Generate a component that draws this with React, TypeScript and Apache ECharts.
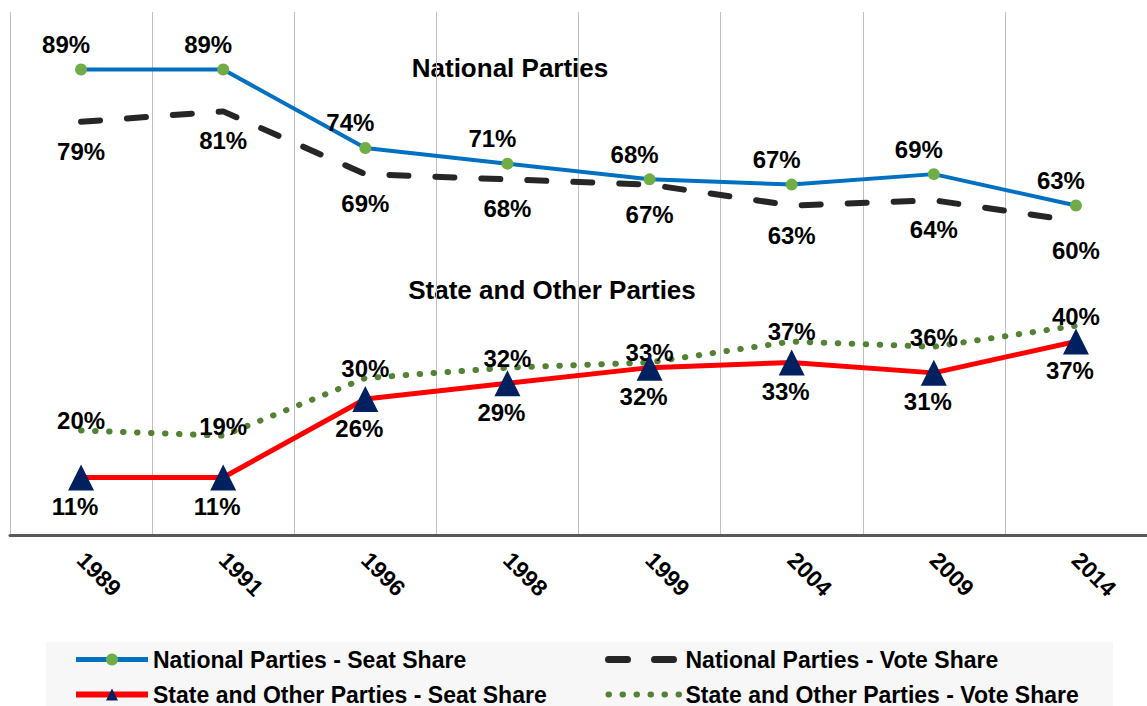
import React, { useEffect, useRef } from "react";
import * as echarts from "echarts";

const years = ["1989", "1991", "1996", "1998", "1999", "2004", "2009", "2014"];
const nationalSeat = [89, 89, 74, 71, 68, 67, 69, 63];
const nationalVote = [79, 81, 69, 68, 67, 63, 64, 60];
const stateSeat = [11, 11, 26, 29, 32, 33, 31, 37];
const stateVote = [20, 19, 30, 32, 33, 37, 36, 40];

const seriesNames = [
  "National Parties - Seat Share",
  "National Parties - Vote Share",
  "State and Other Parties - Seat Share",
  "State and Other Parties - Vote Share",
];

const FONT = "'Liberation Sans', Arial, sans-serif";

export default function App() {
  const ref = useRef<HTMLDivElement>(null);
  useEffect(() => {
    if (!ref.current) return;
    const chart = echarts.init(ref.current, null, { renderer: "svg" });
    const labelBase = {
      show: true,
      formatter: "{c}%",
      color: "#000",
      fontWeight: "bold" as const,
      fontSize: 24,
      fontFamily: FONT,
    };
    const legendText = {
      color: "#000",
      fontWeight: "bold" as const,
      fontSize: 23,
      fontFamily: FONT,
      lineHeight: 22,
    };
    const legendBase = {
      orient: "vertical",
      top: 648,
      height: 120,
      width: 500,
      padding: 0,
      itemWidth: 72,
      itemHeight: 15,
      itemGap: 12,
      textStyle: legendText,
      selectedMode: false,
    };
    chart.setOption({
      animation: false,
      backgroundColor: "#fff",
      grid: { left: 10, right: -7, top: 12, bottom: 171, containLabel: false },
      graphic: [
        {
          type: "rect",
          shape: { x: 46, y: 642, width: 1067, height: 64 },
          style: { fill: "#f7f7f7" },
          z: -1,
        },
        {
          type: "text",
          x: 510,
          y: 68,
          style: {
            text: "National Parties",
            fill: "#000",
            font: `bold 26px ${FONT}`,
            textAlign: "center",
            textVerticalAlign: "middle",
          },
        },
        {
          type: "text",
          x: 552,
          y: 290,
          style: {
            text: "State and Other Parties",
            fill: "#000",
            font: `bold 26px ${FONT}`,
            textAlign: "center",
            textVerticalAlign: "middle",
          },
        },
      ],
      legend: [
        {
          ...legendBase,
          left: 73,
          data: [
            { name: seriesNames[0], lineStyle: { width: 5 } },
            { name: seriesNames[2], lineStyle: { width: 6 } },
          ],
        },
        {
          ...legendBase,
          left: 605,
          data: [
            { name: seriesNames[1], lineStyle: { width: 7 } },
            { name: seriesNames[3], lineStyle: { width: 6 } },
          ],
        },
      ],
      xAxis: {
        type: "category",
        data: years,
        boundaryGap: true,
        axisLine: { show: true, lineStyle: { color: "#595959", width: 3 } },
        axisTick: { show: false },
        splitLine: { show: true, interval: 0, lineStyle: { color: "#bfbfbf", width: 1 } },
        axisLabel: {
          interval: 0,
          rotate: -45,
          margin: 21,
          color: "#000",
          fontWeight: "bold",
          fontSize: 23,
          fontFamily: FONT,
        },
      },
      yAxis: { type: "value", min: 0, max: 100, show: false, splitLine: { show: false } },
      series: [
        {
          name: seriesNames[0],
          type: "line",
          data: nationalSeat,
          symbol: "circle",
          symbolSize: 12,
          itemStyle: { color: "#70AD47" },
          lineStyle: { color: "#0070C0", width: 4 },
          label: { ...labelBase, position: "top", distance: 7, offset: [-15, 0] },
          z: 4,
        },
        {
          name: seriesNames[1],
          type: "line",
          data: nationalVote,
          symbol: "circle",
          symbolSize: 1,
          itemStyle: { color: "rgba(0,0,0,0)" },
          lineStyle: { color: "#262626", width: 6, type: [19, 27], cap: "round" },
          label: { ...labelBase, position: "bottom", distance: 17 },
          z: 3,
        },
        {
          name: seriesNames[2],
          type: "line",
          data: stateSeat,
          symbol: "triangle",
          symbolSize: 26,
          itemStyle: { color: "#002060" },
          lineStyle: { color: "#FF0000", width: 5 },
          label: { ...labelBase, position: "bottom", distance: 4, offset: [-6, 0] },
          z: 4,
        },
        {
          name: seriesNames[3],
          type: "line",
          data: stateVote,
          symbol: "circle",
          symbolSize: 1,
          itemStyle: { color: "rgba(0,0,0,0)" },
          lineStyle: { color: "#548235", width: 6, type: [0.5, 13.5], cap: "round" },
          label: { ...labelBase, position: "top", distance: -3 },
          z: 3,
        },
      ],
    });
    return () => chart.dispose();
  }, []);
  return (
    <div
      ref={ref}
      style={{ position: "fixed", left: 0, top: 0, width: 1147, height: 706 }}
    />
  );
}
